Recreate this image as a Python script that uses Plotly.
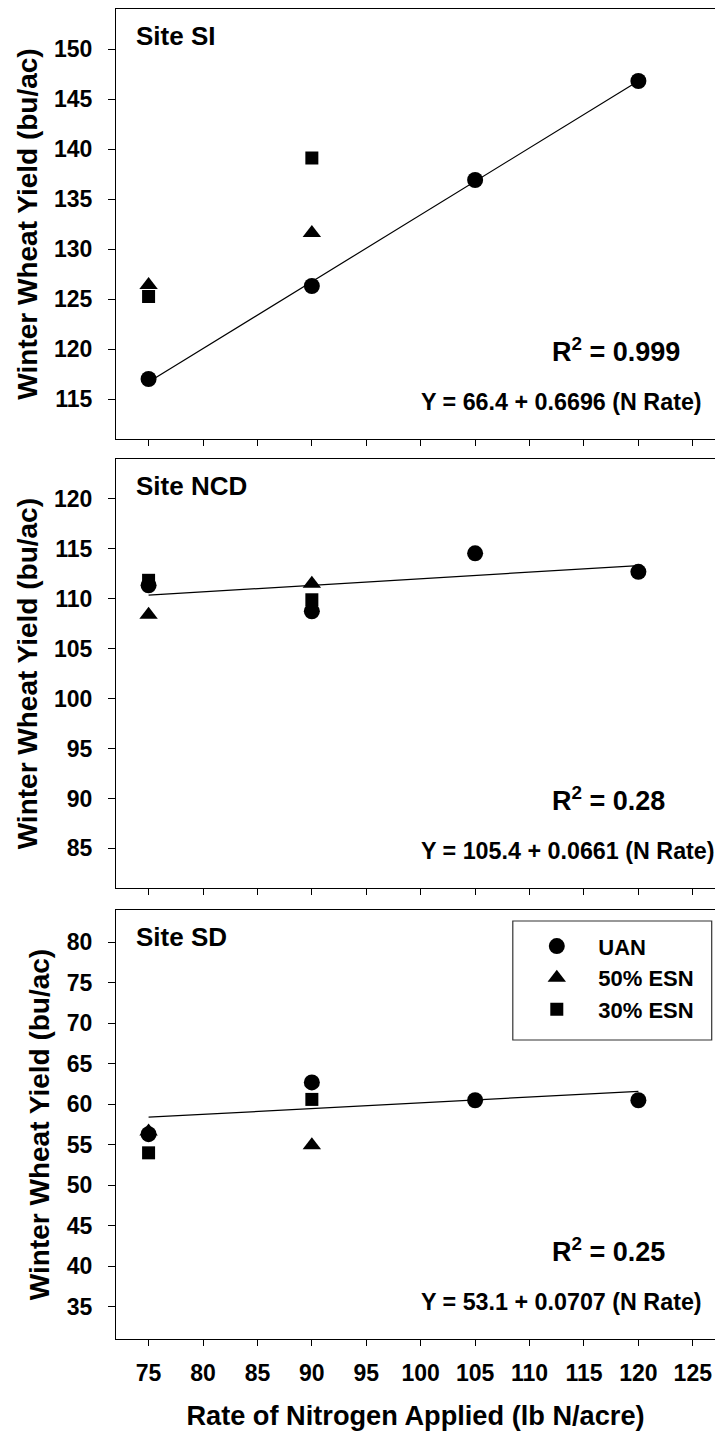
import plotly.graph_objects as go

# ---------------- data ----------------
N_RATE_UAN = [75, 90, 105, 120]
N_RATE_ESN = [75, 90]
FIT_X = [75, 120]

SI_UAN = [117.0, 126.3, 136.9, 146.8]
SI_ESN50 = [126.4, 131.6]
SI_ESN30 = [125.25, 139.1]
SI_FIT = [116.7, 146.8]

NCD_UAN = [111.35, 108.75, 114.55, 112.7]
NCD_ESN50 = [108.4, 111.5]
NCD_ESN30 = [111.85, 109.9]
NCD_FIT = [110.36, 113.33]

SD_UAN = [56.3, 62.7, 60.5, 60.5]
SD_ESN50 = [56.65, 54.95]
SD_ESN30 = [54.0, 60.6]
SD_FIT = [58.4, 61.6]

SITE_LABELS = ["Site SI", "Site NCD", "Site SD"]
R2_LABELS = ["0.999", "0.28", "0.25"]
EQ_LABELS = ["Y = 66.4 + 0.6696 (N Rate)",
             "Y = 105.4 + 0.0661 (N Rate)",
             "Y = 53.1 + 0.0707 (N Rate)"]
SERIES_NAMES = ["UAN", "50% ESN", "30% ESN"]

X_TICKS = list(range(75, 130, 5))
Y_TICKS = [list(range(115, 155, 5)), list(range(85, 125, 5)), list(range(35, 85, 5))]
Y_RANGES = [[111.0, 154.0], [81.0, 124.0], [31.0, 84.0]]

# ---------------- geometry (screen pixels of the reference) ----------------
FONT = "Liberation Sans, Arial, Helvetica, sans-serif"
W, H = 715, 1433
PLOT_LEFT = 115.7
ML = PLOT_LEFT
MR = 0
MT = 9
MB = H - 1339
PW = W - ML - MR
PH = H - MT - MB

PX_PER_UNIT = 10.89
X0 = 75 - (148.3 - PLOT_LEFT) / PX_PER_UNIT
X_RANGE = [X0, X0 + PW / PX_PER_UNIT]

def sx(px):   # screen x -> paper fraction
    return (px - ML) / PW

def sy(py):   # screen y -> paper fraction
    return (H - MB - py) / PH

panels_px = [(9, 439), (459, 888.3), (910, 1339)]
domains = [[sy(b), sy(t)] for t, b in panels_px]
domains[2][0] = 0.0
domains[0][1] = 1.0

fig = go.Figure()

site_data = [
    (SI_UAN, SI_ESN50, SI_ESN30, SI_FIT),
    (NCD_UAN, NCD_ESN50, NCD_ESN30, NCD_FIT),
    (SD_UAN, SD_ESN50, SD_ESN30, SD_FIT),
]
symbols = ["circle", "triangle-up", "square"]
sizes = [16, 16, 13]

for i, (uan, e50, e30, fit) in enumerate(site_data):
    xa = "x" if i == 0 else f"x{i+1}"
    ya = "y" if i == 0 else f"y{i+1}"
    fig.add_trace(go.Scatter(x=FIT_X, y=fit, mode="lines",
                             line=dict(color="black", width=1.2),
                             xaxis=xa, yaxis=ya, showlegend=False,
                             hoverinfo="skip"))
    for j, (xs, ys) in enumerate([(N_RATE_UAN, uan), (N_RATE_ESN, e50), (N_RATE_ESN, e30)]):
        fig.add_trace(go.Scatter(
            x=xs, y=ys, mode="markers", name=SERIES_NAMES[j],
            marker=dict(symbol=symbols[j], size=sizes[j], color="black",
                        line=dict(width=0)),
            xaxis=xa, yaxis=ya, legendgroup=SERIES_NAMES[j],
            showlegend=(i == 2)))

layout = dict(
    width=W, height=H,
    margin=dict(l=ML, r=MR, t=MT, b=MB, autoexpand=False),
    paper_bgcolor="white", plot_bgcolor="white",
    font=dict(family=FONT, color="black", size=22, weight="bold"),
    showlegend=True,
    legend=dict(
        x=sx(515.2), y=sy(925.3), xanchor="left", yanchor="top",
        bgcolor="rgba(0,0,0,0)", borderwidth=0,
        font=dict(family=FONT, size=22, color="black", weight="bold"),
        itemwidth=73, traceorder="normal",
    ),
)

for i in range(3):
    xk = "xaxis" if i == 0 else f"xaxis{i+1}"
    yk = "yaxis" if i == 0 else f"yaxis{i+1}"
    ya = "y" if i == 0 else f"y{i+1}"
    xa = "x" if i == 0 else f"x{i+1}"
    layout[xk] = dict(
        domain=[0, 1], anchor=ya, range=X_RANGE,
        tickvals=X_TICKS, ticktext=[str(v) for v in X_TICKS],
        showticklabels=(i == 2), ticks="outside", ticklen=6, tickwidth=1,
        tickcolor="black", showline=True, linecolor="black", linewidth=1.2,
        mirror=True, showgrid=False, zeroline=False, tickangle=0,
        tickfont=dict(family=FONT, size=23, color="black", weight="bold"),
        ticklabelstandoff=7, automargin=False,
    )
    if i == 2:
        layout[xk]["title"] = dict(
            text="Rate of Nitrogen Applied (lb N/acre)",
            font=dict(family=FONT, size=27.2, color="black", weight="bold"),
            standoff=21)
    layout[yk] = dict(
        domain=domains[i], anchor=xa, range=Y_RANGES[i],
        tickvals=Y_TICKS[i], ticktext=[str(v) for v in Y_TICKS[i]],
        ticks="outside", ticklen=7, tickwidth=1, tickcolor="black",
        showline=True, linecolor="black", linewidth=1.2, mirror=False,
        showgrid=False, zeroline=False, automargin=False,
        tickfont=dict(family=FONT, size=23, color="black", weight="bold"),
        ticklabelstandoff=11,
        title=dict(text="Winter Wheat Yield (bu/ac)",
                   font=dict(family=FONT, size=28, color="black", weight="bold"),
                   standoff=8),
    )

fig.update_layout(**layout)

annotations = []
for i in range(3):
    xd = "x domain" if i == 0 else f"x{i+1} domain"
    yd = "y domain" if i == 0 else f"y{i+1} domain"
    ph = panels_px[i][1] - panels_px[i][0]
    annotations.append(dict(
        text=SITE_LABELS[i], xref=xd, yref=yd,
        x=(134 - PLOT_LEFT) / PW, y=1 - 27 / ph, xanchor="left", yanchor="middle",
        showarrow=False,
        font=dict(family=FONT, size=26, color="black", weight="bold")))
    annotations.append(dict(
        text="R<sup>2</sup> = " + R2_LABELS[i], xref=xd, yref=yd,
        x=(550 - PLOT_LEFT) / PW, y=89.5 / ph, xanchor="left", yanchor="middle",
        showarrow=False,
        font=dict(family=FONT, size=27, color="black", weight="bold")))
    annotations.append(dict(
        text=EQ_LABELS[i], xref=xd, yref=yd,
        x=(419 - PLOT_LEFT) / PW, y=37 / ph, xanchor="left", yanchor="middle",
        showarrow=False,
        font=dict(family=FONT, size=23.3, color="black", weight="bold")))
fig.update_layout(annotations=annotations)

# legend frame
fig.add_shape(type="rect", xref="paper", yref="paper",
              x0=sx(512.7), x1=sx(711.7), y0=sy(1040), y1=sy(921),
              line=dict(color="#333333", width=1.2), fillcolor="rgba(0,0,0,0)")

fig.write_html("out.html",
               config={"displayModeBar": False},
               post_script="document.body.style.margin='0px';")
